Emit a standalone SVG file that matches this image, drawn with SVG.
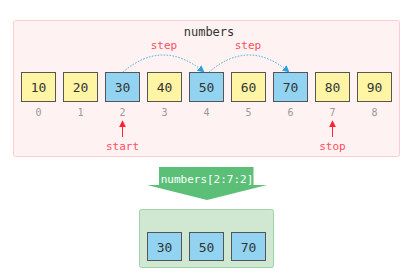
<svg xmlns="http://www.w3.org/2000/svg" width="419" height="278" viewBox="0 0 419 278">
<defs>
<style>
.t{font-family:"DejaVu Sans Mono","Liberation Mono",monospace;text-anchor:middle}
.c{stroke:#555;stroke-width:1}
.y{fill:#fff5a5}
.b{fill:#92d3f2}
.v{font-size:13px;fill:#333}
.i{font-size:10px;fill:#999}
.r{font-size:11px;fill:#ff4d5e}
.arc{fill:none;stroke:#3aa9e0;stroke-width:1;stroke-dasharray:1.5 1.5}
</style>
<marker id="ba" viewBox="0 0 10 10" refX="9" refY="5" markerWidth="7" markerHeight="7" orient="auto"><path d="M0,0L10,5L0,10z" fill="#2a9fe0"/></marker>
<marker id="ra" viewBox="0 0 10 10" refX="9" refY="5" markerWidth="7" markerHeight="7" orient="auto"><path d="M0,0L10,5L0,10z" fill="#ff2233"/></marker>
</defs>
<g id="numbers">
<rect x="13.5" y="20.5" width="386" height="136" rx="2" fill="#fff2f2" stroke="#ffcdd0"/>
<text class="t" x="209" y="36" font-size="12" fill="#333">numbers</text>
</g>
<g id="n0"><rect class="c y" x="21.5" y="72.5" width="34" height="29"/><text class="t v" x="38.5" y="92">10</text><text class="t i" x="38.5" y="116">0</text></g>
<g id="n1"><rect class="c y" x="63.5" y="72.5" width="34" height="29"/><text class="t v" x="80.5" y="92">20</text><text class="t i" x="80.5" y="116">1</text></g>
<g id="n2"><rect class="c b" x="105.5" y="72.5" width="34" height="29"/><text class="t v" x="122.5" y="92">30</text><text class="t i" x="122.5" y="116">2</text></g>
<g id="n3"><rect class="c y" x="147.5" y="72.5" width="34" height="29"/><text class="t v" x="164.5" y="92">40</text><text class="t i" x="164.5" y="116">3</text></g>
<g id="n4"><rect class="c b" x="189.5" y="72.5" width="34" height="29"/><text class="t v" x="206.5" y="92">50</text><text class="t i" x="206.5" y="116">4</text></g>
<g id="n5"><rect class="c y" x="231.5" y="72.5" width="34" height="29"/><text class="t v" x="248.5" y="92">60</text><text class="t i" x="248.5" y="116">5</text></g>
<g id="n6"><rect class="c b" x="273.5" y="72.5" width="34" height="29"/><text class="t v" x="290.5" y="92">70</text><text class="t i" x="290.5" y="116">6</text></g>
<g id="n7"><rect class="c y" x="315.5" y="72.5" width="34" height="29"/><text class="t v" x="332.5" y="92">80</text><text class="t i" x="332.5" y="116">7</text></g>
<g id="n8"><rect class="c y" x="357.5" y="72.5" width="34" height="29"/><text class="t v" x="374.5" y="92">90</text><text class="t i" x="374.5" y="116">8</text></g>
<g id="connectors">
<path class="arc" d="M123,72 Q163,38 204,72" marker-end="url(#ba)"/>
<path class="arc" d="M209,72 Q249,38 289,72" marker-end="url(#ba)"/>
<text class="t r" x="164" y="49">step</text>
<text class="t r" x="248" y="49">step</text>
<line x1="122.5" y1="137" x2="122.5" y2="121" stroke="#ff2233" stroke-width="1" marker-end="url(#ra)"/>
<line x1="332.5" y1="137" x2="332.5" y2="121" stroke="#ff2233" stroke-width="1" marker-end="url(#ra)"/>
<text class="t r" x="122.5" y="150">start</text>
<text class="t r" x="332.5" y="150">stop</text>
</g>
<g id="slice">
<polygon points="159,167 253.5,167 253.5,185 267,185 207,200 147,185 159,185" fill="#5cbf78"/>
<text class="t" x="207" y="183" font-size="11" fill="#fff">numbers[2:7:2]</text>
</g>
<g id="result">
<rect x="139.5" y="209.5" width="134" height="58" rx="2" fill="#d0e8d2" stroke="#9dd3a8"/>
<rect class="c b" x="147.5" y="232.5" width="34" height="28"/><text class="t v" x="164.5" y="251.5">30</text>
<rect class="c b" x="189.5" y="232.5" width="34" height="28"/><text class="t v" x="206.5" y="251.5">50</text>
<rect class="c b" x="231.5" y="232.5" width="34" height="28"/><text class="t v" x="248.5" y="251.5">70</text>
</g>
</svg>
